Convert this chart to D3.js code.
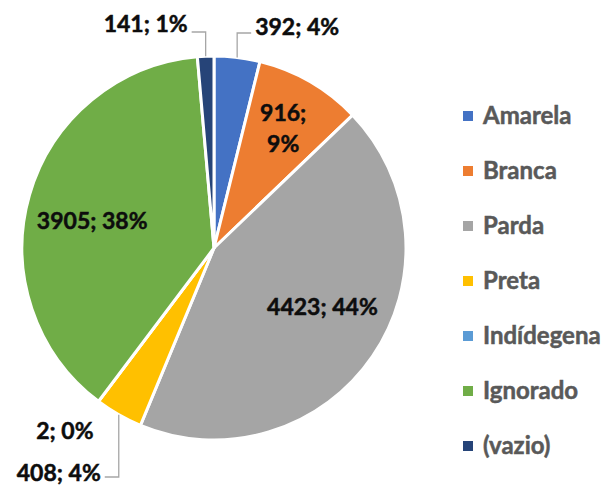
<!DOCTYPE html>
<html>
<head>
<meta charset="utf-8">
<script src="https://cdn.jsdelivr.net/npm/d3@7"></script>
<style>
  body { margin: 0; background: #fff; }
  svg { display: block; font-family: Lato, "Open Sans", sans-serif; font-weight: bold; }
</style>
</head>
<body>
<div class="chart-section"></div>
<script>
const categories = ["Amarela", "Branca", "Parda", "Preta", "Indídegena", "Ignorado", "(vazio)"];
const values = [392, 916, 4423, 408, 2, 3905, 141];
const percents = [4, 9, 44, 4, 0, 38, 1];
const colors = ["#4472C4", "#ED7D31", "#A5A5A5", "#FFC000", "#5B9BD5", "#70AD47", "#264478"];

// how each data label sits: inside the slice, or outside with a leader line
const labelPlacement = [
  { kind: "out", side: "right", ly: 33, off: -6 },
  { kind: "in", k: 0.72, dx: 0, dy: 0, wrap: true },
  { kind: "in", k: 0.64, dx: 7, dy: -10 },
  { kind: "out", side: "left", ly: 477, off: -4 },
  { kind: "out", side: "left", ly: 437, off: -6, noLine: true },
  { kind: "in", k: 0.66, dx: 0, dy: 8 },
  { kind: "out", side: "left", ly: 32, off: -8 },
];

const width = 608;
const height = 491;
const cx = 214;
const cy = 248;
const radius = 192;

const data = categories.map((name, i) => ({ name, value: values[i], pct: percents[i] }));

const colorScale = d3.scaleOrdinal(categories, colors);

const pie = d3.pie().sort(null).value((d) => d.value);
const arc = d3.arc().innerRadius(0).outerRadius(radius);
const arcs = pie(data);

const svg = d3
  .select(".chart-section")
  .append("svg")
  .attr("width", width)
  .attr("height", height)
  .attr("viewBox", [0, 0, width, height]);

const g = svg.append("g").attr("transform", `translate(${cx},${cy})`);

g.selectAll("path")
  .data(arcs)
  .join("path")
  .attr("d", arc)
  .attr("fill", (d) => colorScale(d.data.name))
  .attr("stroke", "#fff")
  .attr("stroke-width", 3)
  .attr("stroke-linejoin", "round");

const fmt = (d) => `${d.data.value}; ${d.data.pct}%`;
const point = (angle, r) => [Math.sin(angle) * r, -Math.cos(angle) * r];

const labels = g
  .append("g")
  .attr("font-size", 23)
  .attr("fill", "#0d0d0d");

arcs.forEach((d, i) => {
  const p = labelPlacement[i];
  const mid = (d.startAngle + d.endAngle) / 2;
  if (p.kind === "in") {
    const [px, py] = point(mid, radius * p.k);
    const x = px + p.dx;
    const t = labels
      .append("text")
      .attr("text-anchor", "middle")
      .attr("x", x)
      .attr("y", py + p.dy)
      .attr("stroke", "#0d0d0d")
      .attr("stroke-width", 0.5);
    if (p.wrap) {
      const parts = fmt(d).split(" ");
      t.append("tspan").attr("x", x).attr("dy", "-0.3em").text(parts[0]);
      t.append("tspan").attr("x", x).attr("dy", "1.35em").text(parts[1]);
    } else {
      t.attr("dy", "0.35em").text(fmt(d));
    }
  } else {
    const [ex, ey] = point(mid, radius);
    const ly = p.ly - cy;
    const dir = p.side === "right" ? 1 : -1;
    if (!p.noLine) {
      labels
        .append("path")
        .attr("d", `M${ex},${ey}V${ly}H${ex + dir * 14}`)
        .attr("fill", "none")
        .attr("stroke", "#a6a6a6")
        .attr("stroke-width", 1.3);
    }
    labels
      .append("text")
      .attr("text-anchor", dir > 0 ? "start" : "end")
      .attr("x", p.noLine ? ex - 5 : ex + dir * 18)
      .attr("y", ly + p.off)
      .attr("dy", "0.35em")
      .attr("stroke", "#0d0d0d")
      .attr("stroke-width", 0.5)
      .text(fmt(d));
  }
});

// legend
const legend = svg.append("g").attr("transform", "translate(463, 116)");
const legendItem = legend
  .selectAll("g")
  .data(categories)
  .join("g")
  .attr("transform", (d, i) => `translate(0, ${i * 55})`);

legendItem
  .append("rect")
  .attr("y", -5)
  .attr("width", 10)
  .attr("height", 10)
  .attr("fill", (d) => colorScale(d));

legendItem
  .append("text")
  .attr("x", 20)
  .attr("dy", "0.35em")
  .attr("font-size", 24)
  .attr("fill", "#595959")
  .attr("stroke", "#595959")
  .attr("stroke-width", 0.5)
  .text((d) => d);
</script>
</body>
</html>
